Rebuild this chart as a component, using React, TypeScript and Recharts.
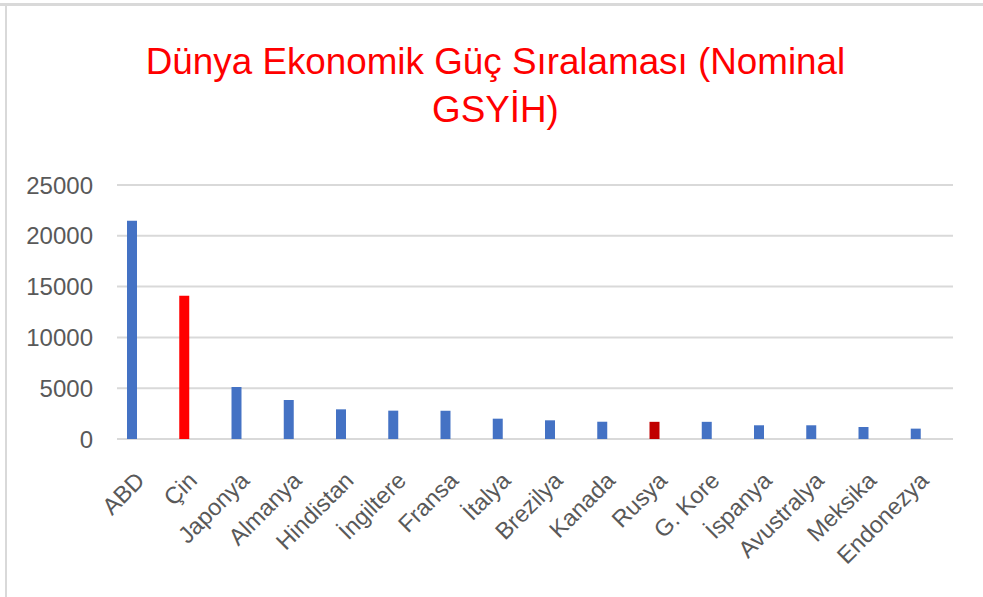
import React from 'react';
import { BarChart, Bar, XAxis, YAxis, CartesianGrid, Cell } from 'recharts';

const countries = [
  'ABD', 'Çin', 'Japonya', 'Almanya', 'Hindistan', 'İngiltere', 'Fransa', 'İtalya',
  'Brezilya', 'Kanada', 'Rusya', 'G. Kore', 'İspanya', 'Avustralya', 'Meksika', 'Endonezya',
];
const gdp = [21480, 14090, 5120, 3840, 2920, 2790, 2780, 2000, 1840, 1700, 1690, 1690, 1350, 1350, 1180, 1020];
const barColors = [
  '#4472C4', '#FF0000', '#4472C4', '#4472C4', '#4472C4', '#4472C4', '#4472C4', '#4472C4',
  '#4472C4', '#4472C4', '#C00000', '#4472C4', '#4472C4', '#4472C4', '#4472C4', '#4472C4',
];
const yTicks = [0, 5000, 10000, 15000, 20000, 25000];

const data = countries.map((name, i) => ({ name, value: gdp[i], color: barColors[i] }));

const FONT = '"Liberation Sans", Arial, sans-serif';

function CountryTick(props: any) {
  const { x, y, payload } = props;
  const ax = x + 14;
  const ay = y + 35;
  return (
    <text
      x={ax}
      y={ay}
      textAnchor="end"
      fill="#595959"
      fontSize={23.5}
      fontFamily={FONT}
      transform={`rotate(-45, ${ax}, ${ay})`}
    >
      {payload.value}
    </text>
  );
}

export default function App() {
  return (
    <div style={{ position: 'absolute', left: 0, top: 0, width: 983, height: 597, background: '#fff', overflow: 'hidden' }}>
      {/* chart frame: only top and left edges are visible in the screenshot */}
      <div style={{ position: 'absolute', left: 0, top: 3, width: 983, height: 3, background: '#d9d9d9' }} />
      <div style={{ position: 'absolute', left: 5, top: 3, width: 2, height: 594, background: '#d9d9d9' }} />
      <div
        style={{
          position: 'absolute',
          left: 0,
          top: 38,
          width: 991,
          textAlign: 'center',
          color: '#FF0000',
          fontFamily: FONT,
          fontSize: 36.8,
          lineHeight: '48px',
        }}
      >
        Dünya Ekonomik Güç Sıralaması (Nominal
        <br />
        GSYİH)
      </div>
      <div style={{ position: 'absolute', left: 0, top: 0 }}>
        <BarChart
          width={983}
          height={597}
          data={data}
          margin={{ top: 185, right: 30, bottom: 0, left: 27 }}
          barSize={10}
        >
          <CartesianGrid vertical={false} stroke="#d9d9d9" strokeWidth={2} />
          <XAxis
            dataKey="name"
            interval={0}
            axisLine={false}
            tickLine={false}
            padding={{ left: -11, right: 11 }}
            tick={<CountryTick />}
            height={158}
          />
          <YAxis
            width={90}
            domain={[0, 25000]}
            ticks={yTicks}
            interval={0}
            axisLine={false}
            tickLine={false}
            tickMargin={18}
            tick={{ fill: '#595959', fontSize: 24, fontFamily: FONT }}
          />
          <Bar dataKey="value" isAnimationActive={false}>
            {data.map((d, i) => (
              <Cell key={i} fill={d.color} />
            ))}
          </Bar>
        </BarChart>
      </div>
    </div>
  );
}
